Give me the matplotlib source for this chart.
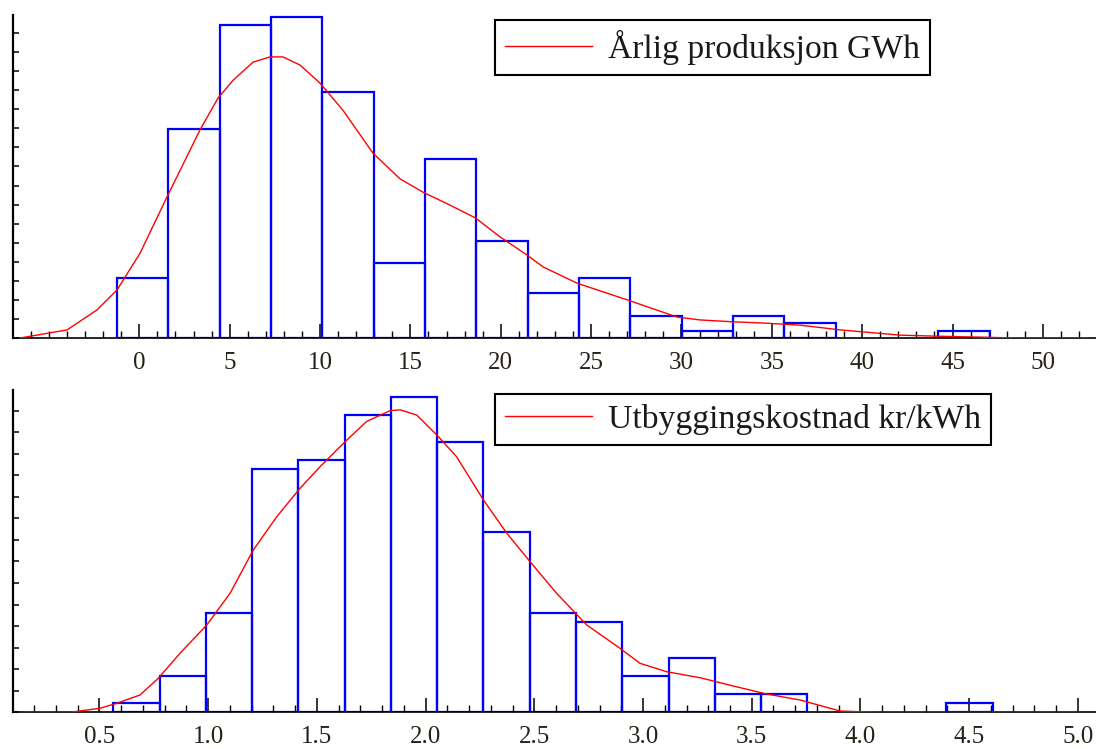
import numpy as np
import matplotlib
matplotlib.use("Agg")
import matplotlib.pyplot as plt
from matplotlib.ticker import FixedLocator, MultipleLocator, NullFormatter, FormatStrFormatter

plt.rcParams["font.family"] = ["Liberation Serif", "DejaVu Serif"]

# antall observasjoner (begge histogrammene er normert til tetthet)
n_obs = 225

# Årlig produksjon GWh
prod_bin_start = -1.23
prod_bin_width = 2.84
prod_counts = [8, 28, 42, 43, 33, 10, 24, 13, 6, 8, 3, 1, 3, 2, 0, 0, 1]
prod_kde_x = [-6.6, -4.0, -2.34, -1.23, 0.04, 1.53, 3.36, 4.36, 5.19, 6.29, 7.23, 7.95,
              8.89, 10.0, 11.27, 12.93, 14.43, 15.7, 17.19, 18.6, 19.97, 21.46, 22.35,
              24.23, 27.0, 29.76, 31.0, 32.86, 34.74, 36.57, 38.78, 40.6, 42.1, 43.92,
              46.2, 48.6, 52.5]
prod_kde_y = [0.0, 0.0017, 0.0059, 0.0101, 0.0178, 0.0296, 0.0437, 0.0504, 0.0541, 0.0579,
              0.0590, 0.0590, 0.0573, 0.0535, 0.0478, 0.0388, 0.0334, 0.0306, 0.0279,
              0.0252, 0.0212, 0.0174, 0.0149, 0.0115, 0.0080, 0.0044, 0.0038, 0.0034,
              0.0031, 0.0027, 0.0017, 0.0011, 0.0006, 0.0004, 0.0002, 0.0, 0.0]
prod_ticks = [0, 5, 10, 15, 20, 25, 30, 35, 40, 45, 50]

# Utbyggingskostnad kr/kWh
cost_bin_start = 0.564
cost_bin_width = 0.2128
cost_counts = [1, 4, 11, 27, 28, 33, 35, 30, 20, 11, 10, 4, 6, 2, 2, 0, 0, 0, 1]
cost_kde_x = [0.158, 0.365, 0.503, 0.58, 0.687, 0.771, 0.871, 0.994, 1.101, 1.208, 1.316,
              1.423, 1.515, 1.63, 1.729, 1.837, 1.883, 1.959, 2.051, 2.143, 2.266, 2.373,
              2.48, 2.603, 2.741, 2.894, 2.986, 3.109, 3.262, 3.415, 3.568, 3.722, 3.906,
              4.074, 5.009]
cost_kde_y = [0.0, 0.0, 0.0093, 0.0209, 0.0402, 0.0789, 0.137, 0.2027, 0.276, 0.3767, 0.454,
              0.52, 0.57, 0.628, 0.675, 0.70, 0.702, 0.69, 0.644, 0.593, 0.493, 0.416, 0.35,
              0.276, 0.2027, 0.1486, 0.1137, 0.0942, 0.0803, 0.061, 0.0425, 0.0286, 0.003,
              0.0, 0.0]
cost_ticks = [0.5, 1.0, 1.5, 2.0, 2.5, 3.0, 3.5, 4.0, 4.5, 5.0]


def draw_panel(ax, start, width, counts, kx, ky, label, xlim, ylim, ticks, minor, ystep,
               fmt, legend_xy):
    counts = np.array(counts, dtype=float)
    lefts = start + width * np.arange(len(counts))
    dens = counts / (n_obs * width)
    keep = counts > 0
    ax.bar(lefts[keep], dens[keep], width=width, align="edge", fill=False,
           edgecolor="#0000ff", linewidth=1.6, zorder=2)
    ax.plot(kx, ky, color="#ff0000", linewidth=1.0, label=label, zorder=4)

    ax.set_xlim(*xlim)
    ax.set_ylim(*ylim)
    for s in ("top", "right"):
        ax.spines[s].set_visible(False)
    ax.spines["left"].set_linewidth(1.6)
    ax.spines["bottom"].set_linewidth(1.2)
    ax.spines["left"].set_zorder(3)
    ax.spines["bottom"].set_zorder(3)

    ax.xaxis.set_major_locator(FixedLocator(ticks))
    ax.xaxis.set_minor_locator(MultipleLocator(minor))
    ax.xaxis.set_major_formatter(FormatStrFormatter(fmt))
    ax.yaxis.set_major_locator(MultipleLocator(ystep))
    ax.yaxis.set_major_formatter(NullFormatter())
    ax.tick_params(axis="x", which="major", direction="in", length=10, width=1.1,
                   labelsize=18, labelcolor="#262218", pad=10)
    ax.tick_params(axis="x", which="minor", direction="in", length=5, width=1.0)
    ax.tick_params(axis="y", which="major", direction="in", length=4, width=1.1)

    leg = ax.legend(loc="upper left", bbox_to_anchor=legend_xy,
                    bbox_transform=ax.figure.transFigure, borderaxespad=0,
                    fontsize=24.2, frameon=True, fancybox=False, framealpha=1,
                    edgecolor="black", handlelength=2.6, handletextpad=0.45,
                    borderpad=0.3)
    leg.get_frame().set_linewidth(1.5)
    for t in leg.get_texts():
        t.set_color("#1a1a1a")


fig = plt.figure(figsize=(10.96, 7.49), dpi=100)
ax1 = fig.add_axes([0.01186, 0.54873, 0.98814, 0.43124])
ax2 = fig.add_axes([0.01186, 0.04900, 0.98814, 0.43030])

draw_panel(ax1, prod_bin_start, prod_bin_width, prod_counts, prod_kde_x, prod_kde_y,
           "Årlig produksjon GWh", (-6.99, 52.94), (0, 0.0678), prod_ticks, 1, 0.004,
           "%d", (495 / 1096, 1 - 20 / 749))
draw_panel(ax2, cost_bin_start, cost_bin_width, cost_counts, cost_kde_x, cost_kde_y,
           "Utbyggingskostnad kr/kWh", (0.103, 5.083), (0, 0.748), cost_ticks, 0.1, 0.05,
           "%.1f", (495 / 1096, 1 - 394 / 749))

fig.savefig("out.png", dpi=100)
